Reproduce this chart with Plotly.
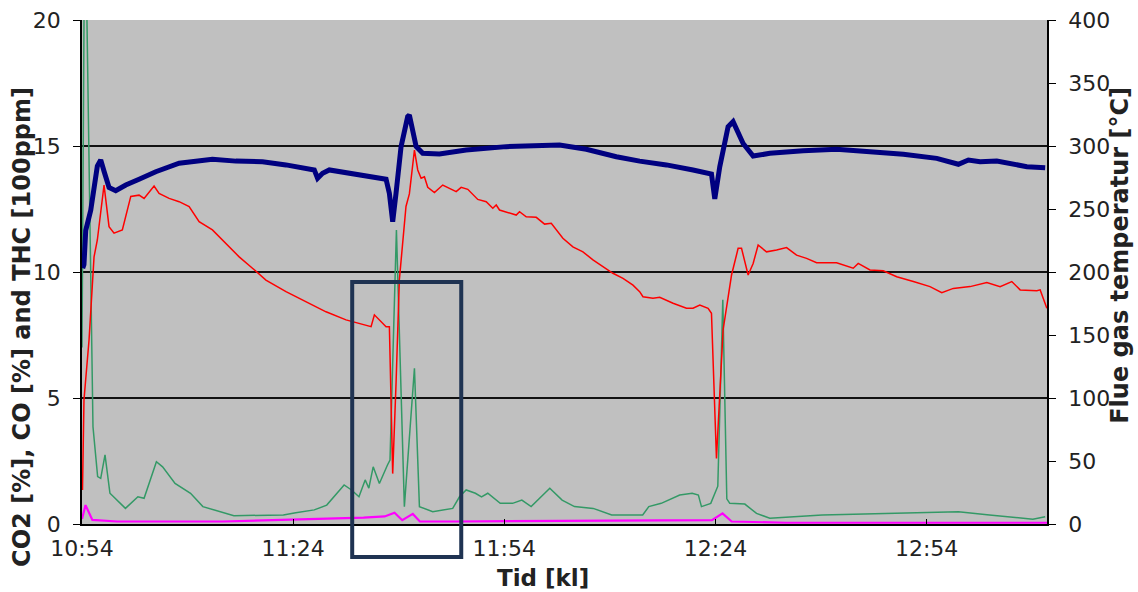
import pandas as pd
import plotly.graph_objects as go

# ---- data (minutes after 10:54) ----
START = "2008-01-01 10:54:00"
END_MIN = 137.1

temp_min = [0.1, 0.28, 0.53, 1.24, 2.18, 2.66, 3.13, 3.84, 4.79, 6.22, 8.11, 10.48, 13.80, 16.17,
            18.53, 21.86, 25.65, 28.98, 31.82, 33.0, 33.47, 34.18, 35.14, 37.51, 40.36, 43.2,
            43.67, 44.14, 44.62, 45.33, 46.27, 46.51, 47.47, 48.41, 50.78, 54.58, 60.27, 65.48,
            67.85, 71.65, 75.92, 79.23, 83.03, 86.81, 89.43, 89.9, 90.61, 91.79, 92.5, 93.93,
            95.35, 97.72, 102.46, 107.21, 111.95, 116.69, 121.44, 124.51, 125.93, 127.6,
            129.97, 132.82, 134.24, 136.84]
temp_c = [203, 206, 233, 249, 284, 289, 280, 267, 264.5, 269, 273.6, 279.6, 286.3, 288,
          289.4, 288, 287.5, 285, 282.3, 281, 274.4, 278.3, 281, 278.8, 276, 273.6,
          262.4, 240, 262.7, 299.5, 323.3, 324.6, 299.5, 294.2, 293.7, 296.8, 299.5, 300.8,
          300.8, 297.4, 291.5, 288, 285, 281, 277.8, 258, 283.6, 315.3, 319.3, 302,
          292, 294.2, 296.3, 297.4, 295.6, 293.4, 290.2, 285.5, 288.9, 287.5,
          288, 285, 283.6, 282.8]

co2_min = [0.07, 0.28, 1.0, 1.71, 2.18, 3.13, 3.84, 4.55, 5.73, 6.93, 8.11, 8.82, 10.24, 10.95,
           12.38, 13.8, 15.22, 16.64, 18.53, 20.44, 22.33, 24.22, 26.13, 28.98, 31.82, 34.67,
           37.51, 40.36, 41.07, 41.54, 42.49, 43.2, 43.67, 44.14, 44.62, 45.09, 46.03, 46.51,
           47.23, 47.7, 48.18, 48.65, 49.12, 50.07, 51.25, 52.2, 53.16, 53.87, 54.81, 56.23,
           57.43, 58.36, 58.85, 59.32, 61.69, 62.16, 63.11, 64.54, 65.72, 66.67, 68.32, 69.74,
           71.17, 72.59, 74.01, 75.43, 76.86, 78.28, 79.23, 79.7, 81.12, 82.08, 83.97, 85.88,
           86.81, 87.77, 88.95, 89.43, 90.14, 90.85, 91.08, 92.28, 93.22, 93.7, 94.64, 95.35,
           96.06, 97.25, 98.68, 100.1, 101.52, 102.94, 104.37, 107.21, 109.57, 110.28, 111.95,
           113.84, 115.75, 118.11, 120.48, 122.15, 123.79, 126.17, 128.55, 130.44, 132.1,
           133.29, 135.66, 136.13, 137.08]
co2_pct = [1.35, 4.92, 7.3, 10.6, 11.27, 13.45, 11.8, 11.54, 11.67, 13.0, 13.05, 12.92, 13.41, 13.12,
           12.92, 12.79, 12.6, 12.0, 11.67, 11.14, 10.6, 10.15, 9.68, 9.22, 8.82, 8.42,
           8.1, 7.9, 7.83, 8.3, 8.03, 7.83, 7.83, 2.0, 5.6, 9.7, 12.6, 13.1,
           14.84, 14.05, 13.72, 13.78, 13.36, 13.15, 13.45, 13.32, 13.19, 13.36, 13.28, 12.88,
           12.79, 12.53, 12.66, 12.46, 12.26, 12.39, 12.19, 12.17, 11.9, 11.93, 11.34, 11.0,
           10.8, 10.48, 10.21, 9.95, 9.75, 9.48, 9.22, 9.02, 8.96, 9.0, 8.76, 8.56,
           8.56, 8.69, 8.56, 8.36, 2.6, 6.9, 7.7, 9.88, 10.94, 10.94, 9.88, 10.34,
           11.07, 10.8, 10.87, 10.97, 10.67, 10.54, 10.37, 10.37, 10.15, 10.34, 10.08,
           10.05, 9.81, 9.62, 9.42, 9.18, 9.35, 9.42, 9.58, 9.42, 9.62,
           9.29, 9.26, 9.29, 8.56]

co_min = [0.0, 0.35, 0.65, 1.34, 1.56, 2.22, 2.66, 3.27, 3.97, 6.17, 7.94, 8.82, 10.57, 11.45,
          12.33, 13.22, 15.42, 17.17, 21.58, 28.61, 30.37, 33.0, 34.77, 36.53, 37.24, 38.29,
          39.35, 40.23, 40.75, 41.37, 42.25, 43.4, 43.76, 44.67, 45.8, 47.23, 47.94, 49.83,
          52.67, 53.63, 54.58, 55.89, 56.76, 57.65, 59.42, 61.17, 62.49, 63.81, 66.46, 68.21,
          69.97, 72.62, 75.25, 77.01, 79.66, 80.53, 82.29, 84.92, 86.69, 87.57, 88.01, 89.33,
          90.33, 91.04, 91.61, 92.03, 94.17, 95.83, 97.72, 105.16, 116.62, 124.52, 128.93,
          135.09, 136.84]
co_pct = [7.0, 23.0, 21.0, 6.5, 3.86, 1.88, 1.81, 2.74, 1.22, 0.62, 1.08, 1.02, 2.47, 2.27,
          1.94, 1.61, 1.22, 0.69, 0.33, 0.36, 0.45, 0.56, 0.75, 1.35, 1.55, 1.35,
          1.08, 1.75, 1.42, 2.27, 1.61, 2.34, 2.54, 11.67, 0.69, 6.18, 0.69, 0.49,
          0.62, 1.08, 1.35, 1.22, 1.08, 1.22, 0.82, 0.82, 0.95, 0.69, 1.42, 0.95,
          0.69, 0.62, 0.36, 0.36, 0.36, 0.69, 0.82, 1.15, 1.22, 1.15, 0.69, 0.82,
          1.5, 8.9, 1.0, 0.82, 0.79, 0.42, 0.23, 0.36, 0.42, 0.49, 0.36,
          0.19, 0.29]

thc_min = [0.0, 0.5, 1.47, 5.0, 20.0, 35.0, 40.0, 43.0, 44.4, 45.5, 47.0, 48.0, 53.0, 89.5,
           91.0, 92.3, 100.0, 137.1]
thc_val = [0.2, 0.75, 0.16, 0.1, 0.1, 0.2, 0.25, 0.3, 0.45, 0.15, 0.4, 0.1, 0.1, 0.15,
           0.42, 0.1, 0.05, 0.05]

# ---- build ----
base = pd.Timestamp(START)


def to_time(mins):
    return base + pd.to_timedelta(mins, unit="min")


FONT = "Verdana, DejaVu Sans, sans-serif"
TXT = "#222222"

fig = go.Figure()
fig.add_trace(go.Scatter(x=to_time(co_min), y=co_pct, mode="lines",
                         line=dict(color="#339966", width=1.5), name="CO", showlegend=False))
fig.add_trace(go.Scatter(x=to_time(thc_min), y=thc_val, mode="lines",
                         line=dict(color="#FF00FF", width=2.2), name="THC", showlegend=False))
fig.add_trace(go.Scatter(x=to_time(co2_min), y=co2_pct, mode="lines",
                         line=dict(color="#FF0000", width=1.5), name="CO2", showlegend=False))
fig.add_trace(go.Scatter(x=to_time(temp_min), y=temp_c, mode="lines", yaxis="y2",
                         line=dict(color="#000080", width=5), name="Flue gas", showlegend=False))

fig.update_layout(
    width=1138, height=592,
    margin=dict(l=82, r=91, t=20, b=68, autoexpand=False),
    paper_bgcolor="white", plot_bgcolor="#C0C0C0",
    font=dict(family=FONT, size=22, color=TXT),
    xaxis=dict(type="date", range=[base, to_time(END_MIN)], tickformat="%H:%M",
               tick0=base, dtick=30 * 60 * 1000, ticks="inside", ticklen=5, tickcolor="black",
               showline=True, linecolor="black", linewidth=1.5, showgrid=False, zeroline=False,
               tickfont=dict(size=22), ticklabelstandoff=4, automargin=False),
    yaxis=dict(range=[0, 20], dtick=5, ticks="outside", ticklen=7, tickcolor="black",
               showline=True, linecolor="black", linewidth=1.5, showgrid=True,
               gridcolor="#111111", gridwidth=1.5, zeroline=False,
               tickfont=dict(size=22), ticklabelstandoff=8, automargin=False),
    yaxis2=dict(range=[0, 400], dtick=50, overlaying="y", side="right", ticks="outside",
                ticklen=7, tickcolor="black", showline=True, linecolor="black", linewidth=1.5,
                showgrid=False, zeroline=False, tickfont=dict(size=22), ticklabelstandoff=8,
                automargin=False),
    annotations=[
        dict(text="<b>CO2 [%], CO [%] and THC [100ppm]</b>", xref="paper", yref="paper",
             x=-0.0622, y=0.391, textangle=-90, showarrow=False,
             font=dict(size=24, family=FONT, color=TXT), xanchor="center", yanchor="middle"),
        dict(text="<b>Flue gas temperatur [°C]</b>", xref="paper", yref="paper",
             x=1.0756, y=0.534, textangle=-90, showarrow=False,
             font=dict(size=24, family=FONT, color=TXT), xanchor="center", yanchor="middle"),
        dict(text="<b>Tid [kl]</b>", xref="paper", yref="paper",
             x=0.4777, y=-0.107, showarrow=False,
             font=dict(size=23, family=FONT, color=TXT), xanchor="center", yanchor="middle"),
    ],
    shapes=[
        dict(type="rect", xref="paper", yref="paper", x0=0.28, x1=0.393, y0=-0.0655, y1=0.480,
             line=dict(color="#1F3352", width=4), fillcolor="rgba(0,0,0,0)", layer="above"),
    ],
)

fig.write_html("out.html", config={"displayModeBar": False},
               post_script="document.body.style.margin='0';")
